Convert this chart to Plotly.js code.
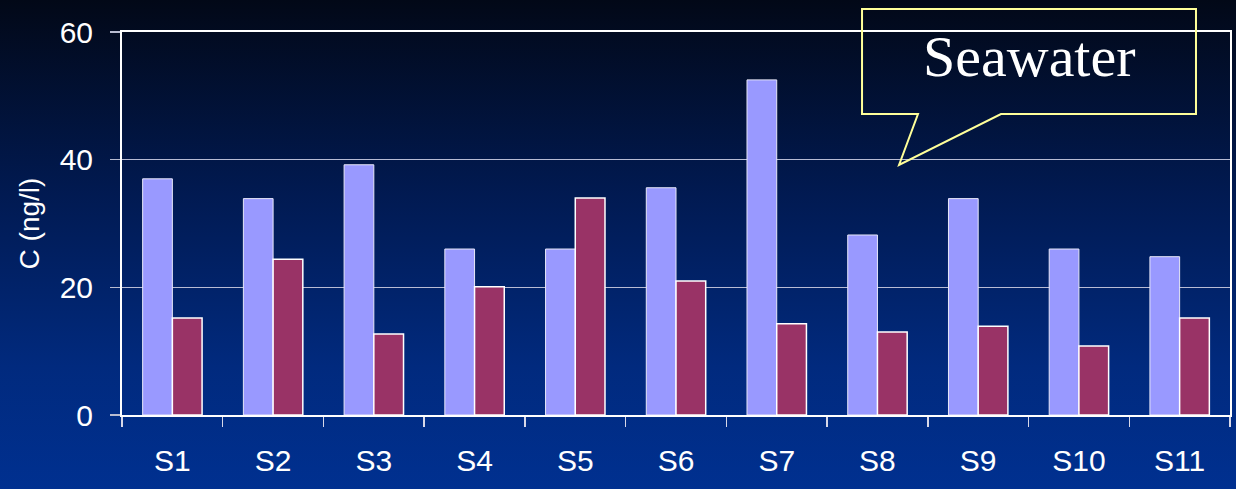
<!DOCTYPE html>
<html>
<head>
<meta charset="utf-8">
<script src="https://cdn.plot.ly/plotly-3.0.1.min.js"></script>
<style>
  html, body { margin: 0; padding: 0; }
  body {
    width: 1236px; height: 489px; overflow: hidden;
    background: linear-gradient(to bottom, #020817 0%, #011a52 40%, #012a7e 75%, #003090 100%);
  }
  #chart { width: 1236px; height: 489px; }
</style>
</head>
<body>
<div id="chart"></div>
<script>
// Sampling sites
const sites = ['S1', 'S2', 'S3', 'S4', 'S5', 'S6', 'S7', 'S8', 'S9', 'S10', 'S11'];
// Concentrations (ng/l), two series per site
const seriesA = [37.0, 33.9, 39.2, 26.0, 26.0, 35.6, 52.5, 28.2, 33.9, 26.0, 24.8];
const seriesB = [15.2, 24.4, 12.7, 20.1, 34.0, 21.0, 14.3, 13.0, 13.9, 10.8, 15.2];
const yTicks = [0, 20, 40, 60];
const calloutText = 'Seawater';

const traces = [
  {
    type: 'bar', x: sites, y: seriesA, name: 'A',
    marker: { color: '#9999ff', line: { color: '#e8e8f8', width: 1 } },
    hoverinfo: 'x+y'
  },
  {
    type: 'bar', x: sites, y: seriesB, name: 'B',
    marker: { color: '#993366', line: { color: '#ffffff', width: 1.5 } },
    hoverinfo: 'x+y'
  }
];

// speech-bubble outline in paper coordinates
const bubble = 'M 0.6679 1.0601 L 0.9693 1.0601 L 0.9693 0.7859 L 0.7933 0.7859 ' +
               'L 0.7013 0.6527 L 0.7184 0.7859 L 0.6679 0.7859 Z';

const layout = {
  width: 1236, height: 489,
  margin: { l: 122, r: 6, t: 32, b: 74 },
  paper_bgcolor: 'rgba(0,0,0,0)',
  plot_bgcolor: 'rgba(0,0,0,0)',
  showlegend: false,
  barmode: 'group',
  bargap: 0.41,
  bargroupgap: 0,
  font: { family: 'Liberation Sans, Arial, sans-serif', color: '#ffffff' },
  xaxis: {
    type: 'category',
    showline: true, linecolor: '#ffffff', linewidth: 2, mirror: true,
    ticks: 'outside', tickson: 'boundaries', ticklen: 10, tickcolor: '#d8d8e8', tickwidth: 1.5,
    ticklabelstandoff: 18,
    tickfont: { size: 30, color: '#ffffff' },
    showgrid: false, zeroline: false, fixedrange: true
  },
  yaxis: {
    range: [0, 60],
    tickvals: yTicks,
    ticktext: yTicks.map(String),
    showline: true, linecolor: '#ffffff', linewidth: 2, mirror: true,
    ticks: 'outside', ticklen: 10, tickcolor: '#b8bcd0', tickwidth: 1.5,
    ticklabelstandoff: 11,
    tickfont: { size: 30, color: '#ffffff' },
    showgrid: true, gridcolor: '#b8bcd4', gridwidth: 1,
    zeroline: false, fixedrange: true,
    title: { text: 'C (ng/l)', font: { size: 28, color: '#ffffff' }, standoff: 12 }
  },
  shapes: [
    {
      type: 'path', xref: 'paper', yref: 'paper', path: bubble,
      line: { color: '#ffff99', width: 2 }, fillcolor: 'rgba(0,0,0,0)'
    }
  ],
  annotations: [
    {
      xref: 'paper', yref: 'paper', x: 0.8186, y: 0.935,
      text: calloutText, showarrow: false,
      font: { family: 'Liberation Serif, Times New Roman, serif', size: 58, color: '#ffffff' },
      xanchor: 'center', yanchor: 'middle'
    }
  ]
};

Plotly.newPlot('chart', traces, layout, { displayModeBar: false, staticPlot: true });
</script>
</body>
</html>
